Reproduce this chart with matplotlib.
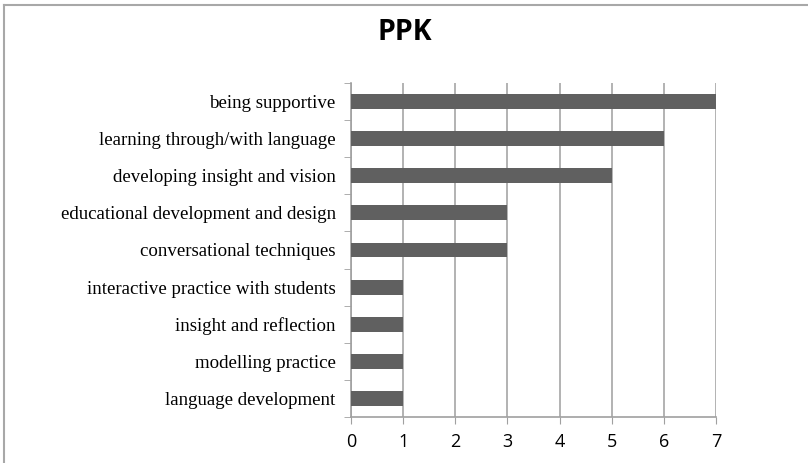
import matplotlib
matplotlib.use('Agg')
import matplotlib.pyplot as plt
from matplotlib.lines import Line2D
import numpy as np

# data, top to bottom as in the chart
categories = ['being supportive', 'learning through/with language',
              'developing insight and vision', 'educational development and design',
              'conversational techniques', 'interactive practice with students',
              'insight and reflection', 'modelling practice', 'language development']
counts = [7, 6, 5, 3, 3, 1, 1, 1, 1]
xticks = [0, 1, 2, 3, 4, 5, 6, 7]

fig = plt.figure(figsize=(8.08, 4.63), dpi=100)
ax = fig.add_axes([0.4344, 0.0994, 0.4517, 0.7213])

# reversed so first category is on top
ypos = np.arange(len(categories))[::-1]
ax.barh(ypos, counts, height=0.4, color='#606060', zorder=3)

ax.set_xlim(0, 7)
ax.set_ylim(-0.5, len(categories) - 0.5)
ax.set_xticks(xticks)
ax.set_xticklabels([str(t) for t in xticks], fontfamily='Open Sans', fontsize=13)
ax.set_yticks(ypos)
ax.set_yticklabels(categories, fontfamily='Liberation Serif', fontsize=13.6)
ax.set_yticks(np.arange(-0.5, len(categories), 1.0), minor=True)

ax.tick_params(axis='y', which='major', length=0, pad=11)
ax.tick_params(axis='y', which='minor', length=5, color='#a0a0a0', direction='out')
ax.tick_params(axis='x', which='major', length=5, color='#a0a0a0', direction='out', pad=6.5)

ax.grid(axis='x', color='#a6a6a6', linewidth=1.2, zorder=0)
for s in ['top', 'right']:
    ax.spines[s].set_visible(False)
for s in ['left', 'bottom']:
    ax.spines[s].set_color('#a0a0a0')
    ax.spines[s].set_linewidth(1.2)

fig.text(0.501, 0.93, 'PPK', ha='center', va='center', fontsize=20.5,
         fontweight='bold', fontfamily='Open Sans')

# chart area border (top and left edges visible)
fig.add_artist(Line2D([0.005, 1.0], [0.989, 0.989], color='#a8a8a8', linewidth=1.5))
fig.add_artist(Line2D([0.0055, 0.0055], [0.0, 0.989], color='#a8a8a8', linewidth=1.5))

fig.savefig('out.png', dpi=100)
